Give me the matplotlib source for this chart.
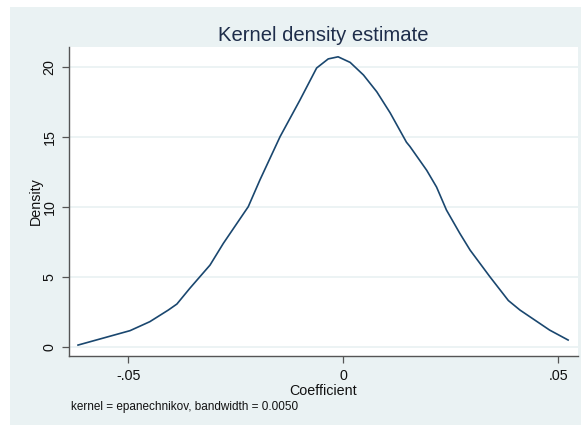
import matplotlib.pyplot as plt
from matplotlib.patches import Rectangle

plt.rcParams['font.family'] = ['Liberation Sans', 'DejaVu Sans']

# kernel density curve
coef = [-0.0617, -0.0496, -0.045, -0.0407, -0.0387, -0.0357, -0.031, -0.0279,
        -0.0221, -0.0194, -0.0147, -0.0101, -0.0062, -0.0035, -0.0012, 0.0016,
        0.0047, 0.0078, 0.0109, 0.0147, 0.0155, 0.0194, 0.0217, 0.024, 0.0271,
        0.0295, 0.0341, 0.0384, 0.0411, 0.048, 0.0523]
density = [0.12, 1.15, 1.79, 2.62, 3.05, 4.17, 5.83, 7.38,
           10.0, 11.9, 15.0, 17.6, 19.9, 20.55, 20.7, 20.3,
           19.4, 18.2, 16.7, 14.6, 14.3, 12.6, 11.4, 9.76, 8.1,
           6.9, 5.0, 3.3, 2.62, 1.19, 0.48]

xticks = [-0.05, 0, 0.05]
xticklabels = ['-.05', '0', '.05']
yticks = [0, 5, 10, 15, 20]

bg = '#eaf2f3'
navy = '#1a476f'

fig = plt.figure(figsize=(5.81, 4.25), dpi=100)
fig.patch.set_facecolor('white')
fig.patches.append(Rectangle((10 / 581, 0), 1, 1 - 7 / 425, transform=fig.transFigure,
                             facecolor=bg, edgecolor='none', zorder=-10))

ax = fig.add_axes([69 / 581, 1 - 356 / 425, 509 / 581, 309 / 425])
ax.set_facecolor('white')
ax.plot(coef, density, color=navy, lw=1.2)

ax.set_xlim(-0.0638, 0.0546)
ax.set_ylim(-0.66, 21.4)
ax.set_xticks(xticks)
ax.set_xticklabels(xticklabels)
ax.set_yticks(yticks)
ax.set_yticklabels([str(v) for v in yticks], rotation=90, va='center')
ax.grid(axis='y', color=bg, lw=1.3)
ax.set_axisbelow(True)

for s in ['top', 'right']:
    ax.spines[s].set_visible(False)
for s in ['left', 'bottom']:
    ax.spines[s].set_color('#555555')
    ax.spines[s].set_linewidth(1.0)
ax.tick_params(direction='out', length=5, width=0.9, color='#555555',
               labelsize=10.3, labelcolor='#111111', pad=4)

ax.set_title('Kernel density estimate', fontsize=14.6, color='#1e2d4a', pad=4)
ax.set_xlabel('Coefficient', fontsize=10.3, labelpad=1, color='#111111')
ax.set_ylabel('Density', fontsize=10.3, labelpad=0, color='#111111')
fig.text(71 / 581, 1 - 407 / 425, 'kernel = epanechnikov, bandwidth = 0.0050',
         fontsize=8.5, va='center', ha='left', color='#111111')

fig.savefig('out.png', dpi=100)
